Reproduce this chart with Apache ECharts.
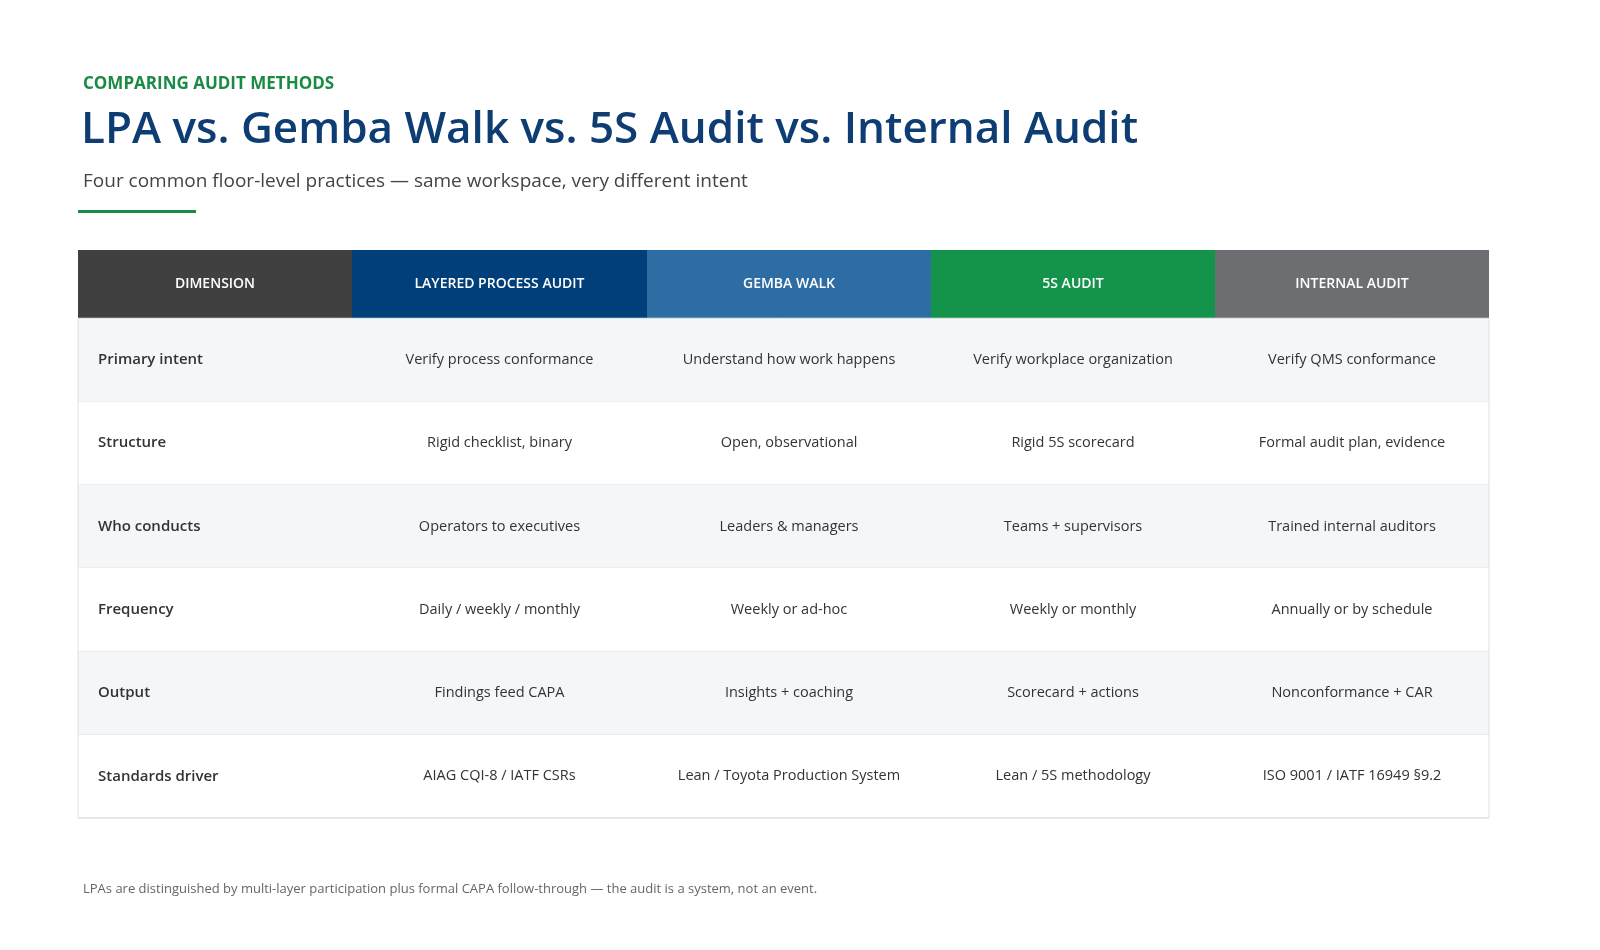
<!DOCTYPE html>
<html><head><meta charset="utf-8">
<script src="https://cdn.jsdelivr.net/npm/echarts@6/dist/echarts.min.js"></script>
<style>html,body{margin:0;padding:0;background:#fff}#c{width:1600px;height:950px}</style>
</head><body><div id="c"></div>
<script>
const headers = ["DIMENSION","LAYERED PROCESS AUDIT","GEMBA WALK","5S AUDIT","INTERNAL AUDIT"];
const dimensions = ["Primary intent","Structure","Who conducts","Frequency","Output","Standards driver"];
const lpa = ["Verify process conformance","Rigid checklist, binary","Operators to executives","Daily / weekly / monthly","Findings feed CAPA","AIAG CQI-8 / IATF CSRs"];
const gemba = ["Understand how work happens","Open, observational","Leaders & managers","Weekly or ad-hoc","Insights + coaching","Lean / Toyota Production System"];
const fiveS = ["Verify workplace organization","Rigid 5S scorecard","Teams + supervisors","Weekly or monthly","Scorecard + actions","Lean / 5S methodology"];
const internal = ["Verify QMS conformance","Formal audit plan, evidence","Trained internal auditors","Annually or by schedule","Nonconformance + CAR","ISO 9001 / IATF 16949 §9.2"];
const headerColors = ["#404040","#003f7a","#2e6da4","#14934a","#6d6e71"];
const colEdges = [0,274,569,853,1137,1411];
const headerH = 68, rowH = 83;

const columns = [dimensions, lpa, gemba, fiveS, internal];
const data = [];
headers.forEach((h,c)=>data.push([c,-1,h]));
dimensions.forEach((d,r)=>columns.forEach((col,c)=>data.push([c,r,col[r]])));

function renderItem(params, api){
  const c = api.value(0), r = api.value(1), txt = data[params.dataIndex][2];
  const y0 = r<0 ? 0 : headerH + r*rowH, y1 = r<0 ? headerH : y0 + rowH;
  const p0 = api.coord([colEdges[c], y0]), p1 = api.coord([colEdges[c+1], y1]);
  const w = p1[0]-p0[0], h = p1[1]-p0[1];
  const children = [];
  let fill = r<0 ? headerColors[c] : (r%2===0 ? '#f5f6f8' : '#ffffff');
  children.push({type:'rect', shape:{x:p0[0],y:p0[1],width:w,height:h}, style:{fill:fill}});
  if (r>=0) children.push({type:'line', shape:{x1:p0[0],y1:p1[1],x2:p1[0],y2:p1[1]}, style:{stroke:'#dde1e6',lineWidth:1}});
  const isDim = c===0 && r>=0;
  children.push({type:'text', style:{
    text:txt, x: isDim ? p0[0]+20 : p0[0]+w/2, y:p0[1]+h/2,
    align: isDim?'left':'center', verticalAlign:'middle',
    fill: r<0 ? '#ffffff' : '#333333',
    font: (r<0||isDim ? '600 ' : '400 ') + (r<0?'14px':(isDim?'15px':'14.5px')) + ' "Open Sans"'
  }});
  return {type:'group', children};
}

const chart = echarts.init(document.getElementById('c'));
chart.setOption({
  animation:false,
  title:[
    {text:'COMPARING AUDIT METHODS', left:78, top:71, textStyle:{color:'#1a8a45',fontFamily:'Open Sans',fontWeight:700,fontSize:17}},
    {text:'LPA vs. Gemba Walk vs. 5S Audit vs. Internal Audit', left:76, top:103, textStyle:{color:'#0d3d73',fontFamily:'Open Sans',fontWeight:600,fontSize:44}},
    {text:'Four common floor-level practices — same workspace, very different intent', left:78, top:167, textStyle:{color:'#444',fontFamily:'Open Sans',fontWeight:400,fontSize:19}},
    {text:'LPAs are distinguished by multi-layer participation plus formal CAPA follow-through — the audit is a system, not an event.', left:78, top:878, textStyle:{color:'#666',fontFamily:'Open Sans',fontWeight:400,fontSize:13}}
  ],
  graphic:[{type:'rect', left:78, top:210, shape:{width:118,height:3}, style:{fill:'#1a8a45'}}],
  grid:{left:78, top:250, width:1411, height:568},
  xAxis:{type:'value', min:0, max:1411, show:false},
  yAxis:{type:'value', min:0, max:headerH+6*rowH, inverse:true, show:false},
  series:[
    {type:'custom', renderItem, data:data.map(d=>[d[0],d[1]]), clip:false},
    {type:'custom', renderItem:(p,api)=>{const a=api.coord([0,headerH]),b=api.coord([1411,headerH+6*rowH]);
      return {type:'rect',shape:{x:a[0],y:a[1],width:b[0]-a[0],height:b[1]-a[1]},style:{fill:'none',stroke:'#dde1e6',lineWidth:1}};},
      data:[[0,0]], clip:false}
  ]
});
</script></body></html>
